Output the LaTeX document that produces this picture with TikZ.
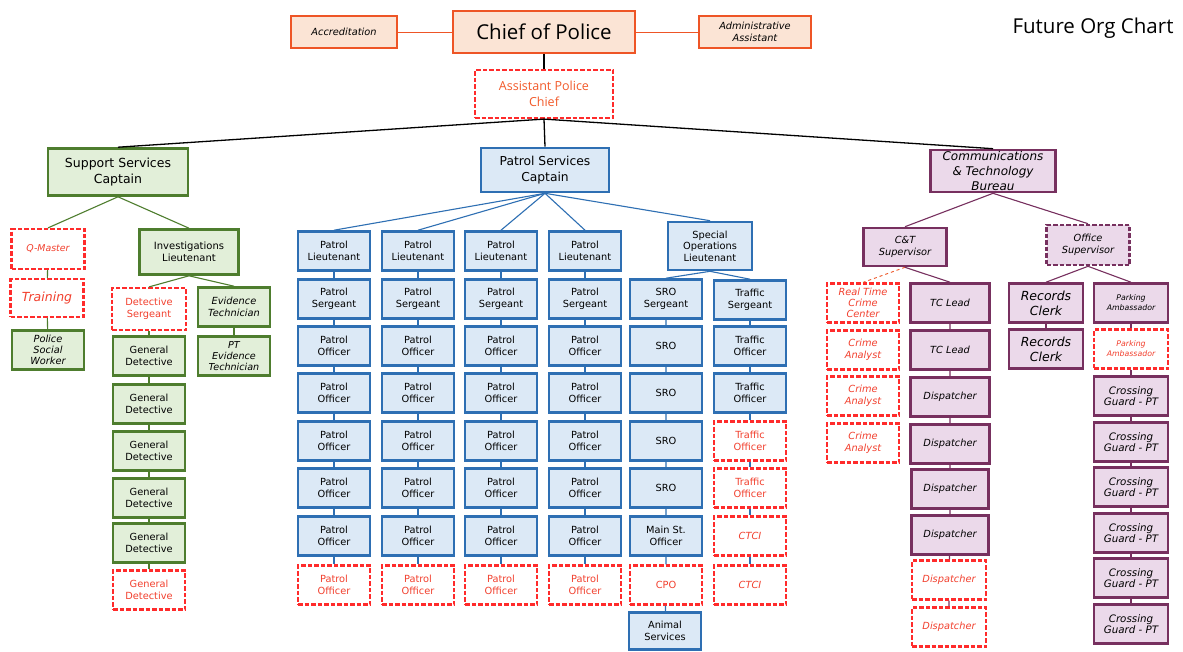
\documentclass[tikz,border=0pt]{standalone}
\usepackage{fontspec}
\setmainfont{DejaVu Sans}
\newfontfamily\osans{Open Sans}
\definecolor{gfill}{HTML}{E2EFD9}
\definecolor{gline}{HTML}{4E7D2E}
\definecolor{bfill}{HTML}{DCE9F6}
\definecolor{bline}{HTML}{2E6FB3}
\definecolor{pfill}{HTML}{EBD9EA}
\definecolor{pline}{HTML}{77305F}
\definecolor{ofill}{HTML}{FBE4D5}
\definecolor{oline}{HTML}{EE5526}
\definecolor{rline}{HTML}{FF2B2B}
\definecolor{rtext}{HTML}{F2402E}
\definecolor{atext}{HTML}{F25A2A}
\tikzset{
 nbox/.style={rectangle, align=center, inner sep=1pt, line width=2.6pt, font=\fontsize{9.8}{11.5}\selectfont},
 it/.style={font=\itshape\fontsize{9.8}{11.5}\selectfont},
 gb/.style={nbox, fill=gfill, draw=gline, minimum width=72, minimum height=39},
 bb/.style={nbox, fill=bfill, draw=bline, minimum width=72, minimum height=39},
 pb/.style={nbox, fill=pfill, draw=pline, minimum width=74, minimum height=39, it},
 ob/.style={nbox, fill=ofill, draw=oline},
 rd/.style={nbox, fill=white, draw=rline, dash pattern=on 4.5pt off 2pt, line width=2.2pt, text=rtext, minimum width=72, minimum height=39},
 kl/.style={draw=black, line width=1.3pt},
 gl/.style={draw=gline, line width=1.1pt},
 bl/.style={draw=bline, line width=1.1pt},
 pl/.style={draw=pline, line width=1.1pt},
 ol/.style={draw=oline, line width=0.9pt},
}
\begin{document}
\begin{tikzpicture}[x=1pt,y=-1pt]
\useasboundingbox[fill=white] (0,0) rectangle (1183,651);

% ---------- top ----------
\node[ob, minimum width=106, minimum height=32, font=\itshape\fontsize{9.8}{12}\selectfont] (acc) at (344,32) {Accreditation};
\node[ob, minimum width=182, minimum height=42, font=\osans\fontsize{20.5}{24}\selectfont] (chief) at (544,32) {Chief of Police};
\node[ob, minimum width=112, minimum height=32, font=\itshape\fontsize{9.8}{12}\selectfont] (adm) at (755,32) {Administrative\\Assistant};
\node[rd, minimum width=138, minimum height=48, text=atext, font=\osans\fontsize{12.5}{15.5}\selectfont] (asst) at (544,94) {Assistant Police\\Chief};
\node[font=\osans\fontsize{20.5}{24}\selectfont] (title) at (1093,28) {Future Org Chart};

\draw[ol] (acc.east) -- (chief.west);
\draw[ol] (chief.east) -- (adm.west);
\draw[kl] (chief.south) -- (asst.north);

% ---------- bureau heads ----------
\node[gb, minimum width=140, minimum height=47, font=\fontsize{12.5}{16}\selectfont] (ssc) at (118,172) {Support Services\\Captain};
\node[bb, minimum width=128, minimum height=44, font=\fontsize{12.3}{15.5}\selectfont] (psc) at (545,170) {Patrol Services\\Captain};
\node[pb, minimum width=125, minimum height=42, font=\itshape\fontsize{12}{15}\selectfont] (ctb) at (993,171) {Communications\\\& Technology\\Bureau};

\draw[kl] (asst.south) -- (ssc.north);
\draw[kl] (asst.south) -- (psc.north);
\draw[kl] (asst.south) -- (ctb.north);

% ---------- support services ----------
\node[rd, text=rtext, minimum width=73, minimum height=40, font=\itshape\fontsize{9.4}{11}\selectfont] (qm) at (48,249) {Q-Master};
\node[rd, minimum width=73, minimum height=38, font=\itshape\fontsize{12.5}{14}\selectfont] (trn) at (47,298) {Training};
\node[gb, minimum width=72, minimum height=39, font=\itshape\fontsize{9.8}{11}\selectfont] (psw) at (48,350) {Police\\Social\\Worker};
\node[gb, minimum width=99, minimum height=45, font=\fontsize{10}{12}\selectfont] (ilt) at (189,252) {Investigations\\Lieutenant};
\node[rd, minimum width=74, minimum height=42] (dsg) at (149,309) {Detective\\Sergeant};
\node[gb, it] (evt) at (234,307) {Evidence\\Technician};
\node[gb, font=\itshape\fontsize{9.6}{11}\selectfont] (pte) at (234,356) {PT\\Evidence\\Technician};
\node[gb] (gd1) at (149,356) {General\\Detective};
\node[gb] (gd2) at (149,404) {General\\Detective};
\node[gb] (gd3) at (149,451) {General\\Detective};
\node[gb] (gd4) at (149,498) {General\\Detective};
\node[gb] (gd5) at (149,543) {General\\Detective};
\node[rd] (gd6) at (149,590) {General\\Detective};

\draw[gl] (ssc.south) -- (qm.north);
\draw[gl] (ssc.south) -- (ilt.north);
\draw[gl] (qm) -- (trn) -- (psw);
\draw[gl] (ilt.south) -- (dsg.north);
\draw[gl] (ilt.south) -- (evt.north);
\draw[gl] (evt) -- (pte);
\draw[gl] (dsg) -- (gd1) -- (gd2) -- (gd3) -- (gd4) -- (gd5) -- (gd6);

% ---------- patrol services ----------
\foreach \c/\x in {1/334,2/418,3/501,4/585}{
  \node[bb] (lt\c) at (\x,251) {Patrol\\Lieutenant};
  \node[bb] (sg\c) at (\x,299) {Patrol\\Sergeant};
  \node[bb] (pa\c) at (\x,346) {Patrol\\Officer};
  \node[bb] (pb\c) at (\x,393) {Patrol\\Officer};
  \node[bb] (pc\c) at (\x,441) {Patrol\\Officer};
  \node[bb] (pd\c) at (\x,488) {Patrol\\Officer};
  \node[bb] (pe\c) at (\x,536) {Patrol\\Officer};
  \node[rd] (pf\c) at (\x,585) {Patrol\\Officer};
  \draw[bl] (psc.south) -- (lt\c.north);
  \draw[bl] (lt\c) -- (sg\c) -- (pa\c) -- (pb\c) -- (pc\c) -- (pd\c) -- (pe\c) -- (pf\c);
}
\node[bb, minimum width=84, minimum height=48, font=\fontsize{9.8}{11.5}\selectfont] (sol) at (710,246) {Special\\Operations\\Lieutenant};
\node[bb] (srs) at (666,299) {SRO\\Sergeant};
\node[bb] (trs) at (750,300) {Traffic\\Sergeant};
\node[bb] (sr1) at (666,346) {SRO};
\node[bb] (sr2) at (666,393) {SRO};
\node[bb] (sr3) at (666,441) {SRO};
\node[bb] (sr4) at (666,488) {SRO};
\node[bb] (mso) at (666,536) {Main St.\\Officer};
\node[rd] (cpo) at (666,585) {CPO};
\node[bb, minimum height=37] (ans) at (665,631) {Animal\\Services};
\node[bb] (to1) at (750,346) {Traffic\\Officer};
\node[bb] (to2) at (750,393) {Traffic\\Officer};
\node[rd] (to3) at (750,441) {Traffic\\Officer};
\node[rd] (to4) at (750,488) {Traffic\\Officer};
\node[rd, it, text=rtext] (ct1) at (750,536) {CTCI};
\node[rd, it, text=rtext] (ct2) at (750,585) {CTCI};

\draw[bl] (psc.south) -- (sol.north);
\draw[bl] (sol.south) -- (srs.north);
\draw[bl] (sol.south) -- (trs.north);
\draw[bl] (srs) -- (sr1) -- (sr2) -- (sr3) -- (sr4) -- (mso) -- (cpo) -- (ans);
\draw[bl] (trs) -- (to1) -- (to2) -- (to3) -- (to4) -- (ct1) -- (ct2);

% ---------- communications & technology ----------
\node[pb, minimum width=83, minimum height=38] (cts) at (905,247) {C\&T\\Supervisor};
\node[pb, minimum width=83, minimum height=40, dash pattern=on 4.5pt off 2pt] (ofs) at (1088,245) {Office\\Supervisor};
\node[rd, text=rtext, font=\itshape\fontsize{9.8}{11}\selectfont] (rtc) at (863,303) {Real Time\\Crime\\Center};
\node[rd, it, text=rtext] (ca1) at (863,350) {Crime\\Analyst};
\node[rd, it, text=rtext] (ca2) at (863,396) {Crime\\Analyst};
\node[rd, it, text=rtext] (ca3) at (863,443) {Crime\\Analyst};
\node[pb, minimum width=79] (tc1) at (950,303) {TC Lead};
\node[pb, minimum width=79] (tc2) at (950,350) {TC Lead};
\node[pb, minimum width=79] (dp1) at (950,397) {Dispatcher};
\node[pb, minimum width=79] (dp2) at (950,444) {Dispatcher};
\node[pb, minimum width=77] (dp3) at (950,489) {Dispatcher};
\node[pb, minimum width=77] (dp4) at (950,535) {Dispatcher};
\node[rd, it, text=rtext, minimum width=74] (dp5) at (949,580) {Dispatcher};
\node[rd, it, text=rtext, minimum width=74] (dp6) at (949,627) {Dispatcher};
\node[pb, font=\itshape\fontsize{12.5}{15}\selectfont] (rc1) at (1046,303) {Records\\Clerk};
\node[pb, font=\itshape\fontsize{12.5}{15}\selectfont] (rc2) at (1046,349) {Records\\Clerk};
\node[pb, font=\itshape\fontsize{7.8}{10}\selectfont] (pk1) at (1131,303) {Parking\\Ambassador};
\node[rd, text=rtext, font=\itshape\fontsize{7.8}{10}\selectfont, minimum width=74] (pk2) at (1131,349) {Parking\\Ambassador};
\node[pb, font=\itshape\fontsize{10.3}{11.5}\selectfont] (cg1) at (1131,396) {Crossing\\Guard - PT};
\node[pb, font=\itshape\fontsize{10.3}{11.5}\selectfont] (cg2) at (1131,442) {Crossing\\Guard - PT};
\node[pb, font=\itshape\fontsize{10.3}{11.5}\selectfont] (cg3) at (1131,487) {Crossing\\Guard - PT};
\node[pb, font=\itshape\fontsize{10.3}{11.5}\selectfont] (cg4) at (1131,533) {Crossing\\Guard - PT};
\node[pb, font=\itshape\fontsize{10.3}{11.5}\selectfont] (cg5) at (1131,578) {Crossing\\Guard - PT};
\node[pb, font=\itshape\fontsize{10.3}{11.5}\selectfont] (cg6) at (1131,624) {Crossing\\Guard - PT};

\draw[pl] (ctb.south) -- (cts.north);
\draw[pl] (ctb.south) -- (ofs.north);
\draw[ol, dashed] (cts.south) -- (rtc.north);
\draw[pl] (cts.south) -- (tc1.north);
\draw[pl] (tc1) -- (tc2) -- (dp1) -- (dp2) -- (dp3) -- (dp4) -- (dp5) -- (dp6);
\draw[pl] (ofs.south) -- (rc1.north);
\draw[pl] (ofs.south) -- (pk1.north);
\draw[pl] (rc1) -- (rc2);
\draw[pl] (pk1) -- (pk2) -- (cg1) -- (cg2) -- (cg3) -- (cg4) -- (cg5) -- (cg6);
\end{tikzpicture}
\end{document}
